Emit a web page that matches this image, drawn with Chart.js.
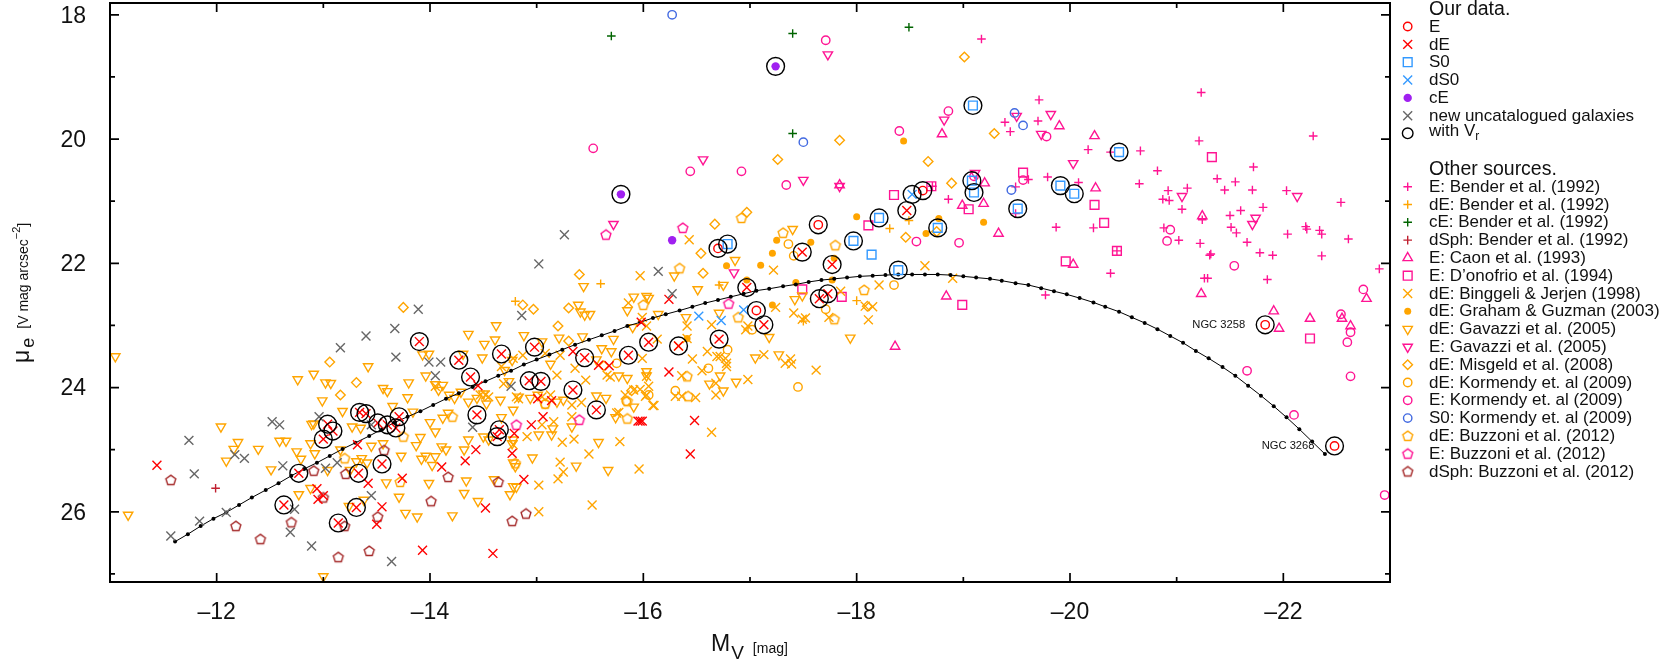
<!DOCTYPE html>
<html>
<head>
<meta charset="utf-8">
<title>Surface brightness vs absolute magnitude</title>
<script src="https://cdn.jsdelivr.net/npm/chart.js@4/dist/chart.umd.js"></script>
<style>
  html, body { margin: 0; padding: 0; background: #fff; }
  canvas { display: block; }
</style>
</head>
<body>
<canvas id="scatterChart" width="1661" height="661"></canvas>
<script>
// Points are [M_V, mu_e]
const ourE = [[-16.70,21.76],[-17.64,21.38],[-17.06,22.76],[-18.62,20.83],[-21.83,22.99],[-22.48,24.94]];
const ourDEVr = [[-13.90,23.26],[-14.27,23.56],[-14.38,23.83],[-14.44,24.44],[-13.04,24.59],[-13.09,24.70],[-13.00,24.83],
    [-13.34,24.40],[-13.40,24.42],[-13.51,24.57],[-13.60,24.60],[-13.68,24.65],[-13.71,24.47],[-12.77,25.38],[-13.33,25.38],
    [-13.55,25.23],[-12.63,25.89],[-13.31,25.93],[-13.14,26.18],[-14.67,23.46],[-14.98,23.35],[-14.93,23.89],[-15.04,23.90],
    [-14.65,24.68],[-14.63,24.79],[-15.34,24.04],[-15.45,23.52],[-15.56,24.36],[-15.86,23.48],[-16.05,23.27],[-16.33,23.33],
    [-16.71,23.22],[-16.97,22.39],[-17.13,22.99],[-17.49,21.82],[-17.77,22.02],[-17.65,22.57],[-17.73,22.49],[-18.47,21.15]];
const ourDEPlain = [[-11.44,25.25],[-13.32,24.92],[-12.94,25.63],[-13.00,25.74],[-12.95,25.80],[-13.42,25.54],[-13.74,25.46],
    [-14.11,25.28],[-14.33,25.18],[-14.43,25.00],[-14.52,25.94],[-13.55,25.92],[-13.50,26.20],[-13.93,26.62],[-14.59,26.67],
    [-14.45,23.97],[-14.88,25.48],[-14.77,25.06],[-14.79,24.74],[-14.95,24.60],[-15.06,24.47],[-15.01,24.18],[-15.14,24.21],
    [-15.34,23.42],[-15.58,23.64],[-15.68,23.65],[-15.95,24.54],[-15.97,24.54],[-15.99,24.54],[-15.98,22.95],[-16.48,24.53],
    [-16.44,25.07],[-16.24,23.75],[-16.24,22.58]];
const ourS0Vr = [[-16.79,21.69],[-17.97,21.64],[-18.21,21.27],[-18.39,22.11],[-18.76,21.43],[-19.08,20.67],[-19.10,20.86],
    [-19.51,21.12],[-19.91,20.75],[-20.04,20.88],[-20.46,20.21],[-19.09,19.46]];
const ourS0Plain = [[-18.14,21.86]];
const ourDS0Vr = [[-18.52,20.89]];
const ourDS0Plain = [[-16.52,22.85],[-16.73,22.92],[-16.94,22.75]];
const ourCEVr = [[-17.24,18.83],[-15.79,20.89]];
const ourCEPlain = [[-16.27,21.63]];
const newGalaxies = [[-11.57,26.39],[-11.84,26.15],[-12.09,26.01],[-11.79,25.39],[-11.74,24.85],[-12.17,25.08],[-12.26,25.14],
    [-12.52,24.55],[-12.59,24.60],[-12.62,25.26],[-12.73,25.96],[-12.69,26.33],[-12.89,26.55],[-12.96,24.47],[-13.02,25.30],
    [-13.13,25.21],[-13.45,25.74],[-13.64,26.80],[-13.16,23.36],[-13.40,23.17],[-13.67,23.05],[-13.68,23.51],[-13.89,22.74],
    [-13.99,23.59],[-14.10,23.59],[-14.05,23.81],[-14.40,24.64],[-13.45,24.60],[-15.02,22.01],[-14.86,22.84],[-14.76,23.98],
    [-15.26,21.54],[-16.14,22.13],[-16.27,22.49]];
const curveMv = [-11.61,-11.73,-11.85,-11.97,-12.09,-12.21,-12.33,-12.46,-12.58,-12.70,-12.82,-12.94,-13.06,-13.18,-13.30,
    -13.43,-13.55,-13.67,-13.79,-13.91,-14.03,-14.15,-14.27,-14.40,-14.52,-14.64,-14.76,-14.88,-15.00,-15.12,-15.24,-15.36,
    -15.49,-15.61,-15.73,-15.85,-15.97,-16.09,-16.21,-16.34,-16.46,-16.58,-16.70,-16.82,-16.94,-17.06,-17.18,-17.31,-17.43,
    -17.55,-17.67,-17.79,-17.91,-18.03,-18.15,-18.27,-18.39,-18.52,-18.64,-18.76,-18.88,-19.00,-19.12,-19.25,-19.36,-19.49,
    -19.61,-19.73,-19.85,-19.97,-20.09,-20.22,-20.33,-20.46,-20.58,-20.70,-20.82,-20.94,-21.06,-21.18,-21.30,-21.43,-21.55,
    -21.67,-21.79,-21.91,-22.03,-22.15,-22.27,-22.39];
const curveMu = [26.48,26.36,26.23,26.11,26.01,25.89,25.77,25.65,25.54,25.42,25.31,25.21,25.10,24.99,24.89,24.78,24.67,24.56,
    24.47,24.38,24.28,24.18,24.09,23.99,23.90,23.81,23.73,23.63,23.55,23.47,23.39,23.31,23.23,23.16,23.09,23.01,22.95,22.88,
    22.82,22.76,22.70,22.64,22.59,22.54,22.49,22.44,22.41,22.37,22.34,22.30,22.27,22.25,22.23,22.21,22.20,22.19,22.18,22.18,
    22.18,22.18,22.19,22.21,22.23,22.25,22.28,22.32,22.35,22.40,22.45,22.50,22.56,22.63,22.70,22.78,22.87,22.96,23.06,23.17,
    23.28,23.41,23.53,23.67,23.81,23.97,24.13,24.30,24.48,24.67,24.87,25.07];
const benderE = [[-19.17,18.39],[-18.86,20.97],[-19.49,20.77],[-19.61,20.65],[-19.44,19.88],[-19.49,21.20],[-18.71,20.76],
    [-19.71,19.37],[-21.23,19.25],[-19.39,19.73],[-19.70,19.71],[-22.28,19.95],[-20.17,20.17],[-20.38,20.21],[-20.66,20.19],
    [-21.21,20.03],[-20.82,20.51],[-21.72,20.45],[-21.38,20.64],[-21.55,20.69],[-19.79,20.61],[-20.08,20.70],[-20.65,20.72],
    [-20.92,20.83],[-21.10,20.79],[-21.45,20.82],[-21.71,20.82],[-22.03,20.83],[-20.87,20.97],[-20.93,20.99],[-21.05,21.13],
    [-22.54,21.02],[-21.24,21.30],[-21.60,21.15],[-21.81,21.10],[-21.50,21.23],[-21.51,21.42],[-21.56,21.51],[-21.66,21.66],
    [-20.88,21.43],[-21.02,21.63],[-21.22,21.68],[-19.87,21.42],[-20.22,21.43],[-22.21,21.41],[-22.22,21.45],[-22.34,21.47],
    [-22.36,21.53],[-22.04,21.53],[-22.61,21.61],[-21.32,21.85],[-21.31,21.87],[-21.78,21.83],[-21.90,21.87],[-22.36,21.88],
    [-20.38,22.16],[-19.77,22.51],[-22.90,22.09],[-21.26,22.24],[-21.29,22.24],[-21.85,22.26],[-20.44,21.80]];
const benderDE = [[-15.60,22.33],[-14.80,22.61],[-16.71,22.35],[-18.31,21.44],[-18.00,22.60],[-17.50,22.93],[-18.49,21.31]];
const benderCE = [[-15.70,18.34],[-17.40,18.30],[-18.49,18.20],[-17.40,19.91]];
const benderDSph = [[-11.99,25.62]];
const caonE = [[-18.80,19.92],[-17.84,20.74],[-19.90,19.79],[-20.23,19.95],[-20.24,20.79],[-20.03,22.02],[-21.24,21.24],
    [-21.23,22.49],[-22.78,22.57],[-21.91,22.77],[-21.96,23.05],[-22.25,22.89],[-22.55,22.89],[-22.63,23.01],[-18.84,22.53],
    [-18.36,23.34],[-19.33,21.52],[-19.19,21.04],[-18.99,21.07],[-19.20,20.71]];
const donofrioE = [[-19.56,20.54],[-21.33,20.29],[-20.23,21.06],[-20.32,21.35],[-20.44,21.80],[-19.96,21.97],[-22.25,23.21],
    [-18.35,20.90],[-18.70,20.76],[-18.11,21.39],[-17.49,22.42],[-17.86,22.54],[-18.99,22.67],[-19.05,21.13]];
const binggeliDE = [[-15.97,22.20],[-15.86,22.64],[-15.99,22.87],[-16.03,23.01],[-15.99,23.53],[-16.03,23.82],[-15.66,23.80],
    [-15.69,23.83],[-15.46,23.88],[-15.36,23.69],[-15.19,23.80],[-15.42,24.24],[-15.33,24.28],[-15.33,24.47],[-15.83,24.12],
    [-15.91,24.04],[-15.97,24.03],[-16.05,23.98],[-16.03,24.12],[-16.10,24.29],[-15.77,24.40],[-15.78,24.87],[-15.49,25.07],
    [-15.35,24.83],[-15.24,24.88],[-15.22,25.20],[-15.25,25.36],[-15.20,25.47],[-15.02,25.57],[-15.02,26.00],[-15.52,25.89],
    [-15.96,25.31],[-14.91,24.79],[-15.05,24.60],[-15.16,24.55],[-15.13,24.12],[-15.08,23.45],[-14.87,23.48],[-14.67,23.66],
    [-14.69,23.94],[-14.78,23.53],[-14.81,24.15],[-14.47,24.12],[-14.52,24.12],[-14.05,23.98],[-14.78,24.92],[-15.22,23.48],
    [-14.55,24.15],[-14.83,24.18],[-15.05,24.15],[-16.43,21.62],[-17.22,22.11],[-17.41,22.80],[-17.49,22.90],[-17.52,22.88],
    [-17.74,22.87],[-18.11,22.91],[-18.21,22.35],[-18.08,22.69],[-18.15,22.70],[-17.24,22.71],[-16.96,23.07],[-16.98,23.01],
    [-17.13,23.47],[-17.38,23.54],[-17.33,23.61],[-17.39,23.62],[-17.62,23.72],[-16.98,23.87],[-16.78,23.61],[-16.77,23.53],
    [-16.78,23.66],[-16.60,23.42],[-16.69,23.50],[-16.72,23.50],[-16.64,22.99],[-16.41,23.01],[-16.13,23.22],[-16.41,23.21],
    [-16.46,23.54],[-16.55,23.73],[-16.36,23.81],[-16.68,23.93],[-16.68,24.12],[-16.49,24.16],[-16.36,24.14],[-16.30,24.14],
    [-16.09,24.29],[-16.02,24.14],[-15.75,24.41],[-16.64,24.72],[-17.85,22.45],[-18.64,22.04],[-18.90,22.24],[-16.33,23.33]];
const grahamDE = [[-18.44,20.03],[-18.00,21.25],[-18.65,21.52],[-18.77,21.28],[-19.19,21.34],[-17.57,21.66],[-17.79,21.92],
    [-17.77,22.27],[-17.43,22.31],[-17.25,21.63],[-17.21,21.84],[-17.10,22.03],[-16.78,22.04],[-16.97,22.27],[-17.21,22.67],
    [-16.41,23.21]];
const gavazziDE = [[-11.05,23.50],[-11.17,26.05],[-12.04,24.63],[-12.20,24.88],[-12.16,24.99],[-12.09,25.18],[-12.39,24.99],
    [-12.59,24.86],[-12.65,24.86],[-12.51,25.32],[-12.75,25.03],[-12.79,25.15],[-12.77,25.72],[-12.88,25.62],[-12.76,23.87],
    [-12.91,23.78],[-13.02,23.92],[-13.07,23.93],[-13.42,23.66],[-12.99,24.21],[-13.18,24.38],[-12.89,24.59],[-12.91,24.58],
    [-12.88,24.90],[-12.92,25.06],[-13.16,25.00],[-13.04,25.33],[-13.25,25.33],[-13.36,25.14],[-13.31,25.19],[-13.41,25.21],
    [-13.24,25.91],[-13.38,25.81],[-13.00,27.04],[-13.27,24.63],[-13.35,24.65],[-13.56,24.90],[-13.45,24.94],[-13.56,24.01],
    [-13.60,24.06],[-13.65,24.30],[-13.80,23.92],[-13.79,24.16],[-13.84,24.39],[-13.73,25.10],[-13.59,25.53],[-13.71,25.76],
    [-13.77,26.02],[-13.88,26.08],[-13.99,25.54],[-13.87,24.93],[-13.91,24.80],[-13.92,25.15],[-13.96,25.10],[-14.02,25.25],
    [-14.05,25.11],[-14.00,24.56],[-14.05,24.71],[-14.11,24.95],[-14.15,25.00],[-14.12,24.49],[-14.17,24.41],[-13.93,23.47],
    [-13.99,23.46],[-13.96,23.81],[-14.05,23.95],[-14.08,24.04],[-14.12,23.96],[-14.18,24.12],[-14.23,24.17],[-14.29,24.07],
    [-14.36,24.23],[-14.44,24.17],[-14.50,24.10],[-14.53,24.26],[-14.36,23.14],[-14.51,23.30],[-14.61,23.23],[-14.62,23.00],
    [-14.49,23.52],[-14.31,23.46],[-14.36,24.84],[-14.32,25.00],[-14.34,25.50],[-14.32,25.70],[-14.45,25.83],[-14.21,26.06],
    [-14.60,25.48],[-14.50,24.79],[-14.55,24.84],[-14.88,23.16],[-15.05,23.26],[-14.77,23.56],[-14.70,23.72],[-15.21,23.20],
    [-15.43,23.18],[-15.13,23.62],[-15.39,22.67],[-15.44,22.37],[-15.41,22.78],[-15.45,22.83],[-15.50,22.82],[-15.72,23.22],
    [-15.70,23.42],[-15.61,23.37],[-15.56,23.55],[-15.91,22.54],[-16.03,22.53],[-16.05,22.56],[-15.85,22.76],[-15.90,23.03],
    [-16.14,22.82],[-16.03,23.74],[-16.03,23.81],[-15.85,23.85],[-15.77,23.81],[-14.74,23.90],[-14.66,24.20],[-14.83,24.15],
    [-14.94,24.17],[-14.78,24.36],[-15.01,24.12],[-14.67,24.48],[-14.96,25.13],[-14.75,25.72],[-14.78,25.59],[-14.81,25.60],
    [-14.78,24.84],[-14.77,24.90],[-14.78,25.21],[-14.80,25.27],[-15.02,24.76],[-15.14,24.76],[-15.15,24.66],[-15.33,24.63],
    [-15.37,25.26],[-15.58,24.88],[-15.67,25.33],[-15.74,24.48],[-15.91,24.31],[-15.65,24.17],[-15.56,24.13],[-15.25,24.20],
    [-15.19,24.23],[-17.18,23.19],[-17.05,23.52],[-17.27,23.47],[-16.87,23.91],[-16.75,24.05],[-16.62,23.94],[-16.72,23.81],
    [-17.94,23.20],[-16.51,22.42],[-16.29,22.20],[-16.75,22.35],[-16.86,21.95],[-17.40,21.45],[-17.42,22.58],[-16.71,22.80],
    [-16.40,22.87],[-17.49,22.52]];
const gavazziE = [[-17.73,18.64],[-18.82,19.69],[-16.56,20.33],[-17.50,20.66],[-17.84,20.76],[-19.50,19.63],[-19.82,19.60],
    [-19.73,19.92],[-20.03,20.39],[-21.05,20.92],[-22.13,20.92],[-21.74,21.27],[-21.71,21.37],[-15.72,21.37],[-19.11,20.55],
    [-16.85,22.15]];
const misgeldDE = [[-13.75,22.71],[-13.06,23.59],[-13.31,23.92],[-13.16,24.12],[-14.87,22.67],[-14.97,22.74],[-15.30,22.72],
    [-15.30,23.25],[-15.20,23.01],[-15.40,22.18],[-16.67,21.37],[-16.54,21.84],[-16.56,22.16],[-16.97,21.18],[-15.63,23.65],
    [-15.89,24.05],[-18.10,22.69],[-19.01,18.68],[-19.29,19.91],[-18.67,20.36],[-17.84,20.02],[-17.26,20.33],[-18.89,20.71],
    [-18.46,21.58],[-18.75,21.49]];
const kormendyDE = [[-17.36,21.69],[-17.41,21.88],[-15.75,23.61],[-16.61,23.69],[-16.30,24.05],[-16.05,24.12],[-15.84,24.22],
    [-17.45,23.99],[-17.02,23.07],[-17.71,22.74],[-18.35,22.35],[-15.08,24.27],[-16.79,23.39]];
const kormendyE = [[-17.71,18.41],[-18.86,19.55],[-18.40,19.87],[-15.53,20.15],[-16.44,20.52],[-16.92,20.52],[-17.34,20.74],
    [-19.78,19.96],[-19.56,20.66],[-20.94,21.46],[-20.91,21.64],[-21.54,22.04],[-22.75,22.42],[-22.54,22.82],[-22.63,23.11],
    [-22.60,23.27],[-21.66,23.73],[-22.63,23.82],[-22.10,24.44],[-22.95,25.73],[-18.56,21.65],[-18.96,21.67],[-19.10,20.60]];
const kormendyS0 = [[-16.27,18.00],[-17.50,20.05],[-19.48,19.58],[-19.56,19.78],[-19.45,20.82]];
const buzzoniDE = [[-16.92,21.27],[-17.31,21.51],[-16.34,22.08],[-17.80,21.71],[-18.07,22.43],[-17.79,22.90],[-16.89,22.87],
    [-16.00,22.67],[-15.85,24.22],[-15.85,24.50],[-16.41,23.82],[-16.42,24.14],[-14.21,24.47],[-14.80,25.22],[-15.08,24.26],
    [-13.20,25.14],[-13.72,25.52],[-13.75,24.79]];
const buzzoniE = [[-15.65,21.54],[-16.37,21.43],[-16.80,22.65],[-14.81,24.60],[-15.40,24.52]];
const buzzoniDSph = [[-11.57,25.49],[-12.18,26.23],[-12.41,26.44],[-12.70,26.17],[-13.14,26.73],[-13.43,26.63],[-12.91,25.34],
    [-13.21,25.39],[-13.57,25.01],[-13.51,26.08],[-13.20,26.23],[-13.00,25.77],[-14.17,25.44],[-14.01,25.83],[-14.64,25.52],
    [-14.77,26.15],[-14.90,26.03]];

const xTickValues = [-12, -14, -16, -18, -20, -22];
const xTickLabels = ['–12', '–14', '–16', '–18', '–20', '–22'];
const yTickValues = [18, 20, 22, 24, 26];
const yTickLabels = ['18', '20', '22', '24', '26'];
const galaxyNames = [['NGC 3258', -21.83, 22.99], ['NGC 3268', -22.48, 24.94]];

const FONT = '"Liberation Sans", Arial, sans-serif';
const PINK = '#ff1493';
const ORANGE = '#ffa500';
const RED = '#ff0000';
const BLUE = '#3399ff';
const LINE = 1.4;

function pentagon(color) {
    const c = document.createElement('canvas');
    c.width = c.height = 14;
    const g = c.getContext('2d');
    g.strokeStyle = color;
    g.lineWidth = LINE;
    g.beginPath();
    for (let i = 0; i < 5; i++) {
        const a = -Math.PI / 2 + i * 2 * Math.PI / 5;
        g.lineTo(7 + 5.2 * Math.cos(a), 7.3 + 5.2 * Math.sin(a));
    }
    g.closePath();
    g.stroke();
    return c;
}

// Marker looks, shared by the chart and the legend
const mark = {
    circle: (color) => ({ pointStyle: 'circle', radius: 4.2, color }),
    dot: (color, radius) => ({ pointStyle: 'circle', radius, color, fill: true }),
    x: (color) => ({ pointStyle: 'crossRot', radius: 6.3, color }),
    plus: (color) => ({ pointStyle: 'cross', radius: 4.3, color }),
    square: (color) => ({ pointStyle: 'rect', radius: 6.2, color }),
    up: (color) => ({ pointStyle: 'triangle', radius: 5.4, color }),
    down: (color) => ({ pointStyle: 'triangle', radius: 5.4, rotation: 180, color }),
    diamond: (color) => ({ pointStyle: 'rectRot', radius: 4.8, color }),
    pent: (color) => ({ pointStyle: pentagon(color), radius: 5, color })
};

const ringMark = { pointStyle: 'circle', radius: 8.9, color: '#000' };
const ringLegendMark = { pointStyle: 'circle', radius: 5.3, color: '#000' };

// Draw order is bottom to top
const otherSeries = [
    { label: 'E: Bender et al. (1992)', data: benderE, m: mark.plus(PINK) },
    { label: 'dE: Bender et al. (1992)', data: benderDE, m: mark.plus(ORANGE) },
    { label: 'cE: Bender et al. (1992)', data: benderCE, m: mark.plus('#006400') },
    { label: 'dSph: Bender et al. (1992)', data: benderDSph, m: mark.plus('#c02030') },
    { label: 'E: Caon et al. (1993)', data: caonE, m: mark.up(PINK) },
    { label: 'E: D’onofrio et al. (1994)', data: donofrioE, m: mark.square(PINK) },
    { label: 'dE: Binggeli & Jerjen (1998)', data: binggeliDE, m: mark.x(ORANGE) },
    { label: 'dE: Graham & Guzman (2003)', data: grahamDE, m: mark.dot(ORANGE, 3.5) },
    { label: 'dE: Gavazzi et al. (2005)', data: gavazziDE, m: mark.down(ORANGE) },
    { label: 'E: Gavazzi et al. (2005)', data: gavazziE, m: mark.down(PINK) },
    { label: 'dE: Misgeld et al. (2008)', data: misgeldDE, m: mark.diamond(ORANGE) },
    { label: 'dE: Kormendy et. al (2009)', data: kormendyDE, m: mark.circle(ORANGE) },
    { label: 'E: Kormendy et. al (2009)', data: kormendyE, m: mark.circle(PINK) },
    { label: 'S0: Kormendy et. al (2009)', data: kormendyS0, m: mark.circle('#4169e1') },
    { label: 'dE: Buzzoni et al. (2012)', data: buzzoniDE, m: mark.pent(ORANGE) },
    { label: 'E: Buzzoni et al. (2012)', data: buzzoniE, m: mark.pent(PINK) },
    { label: 'dSph: Buzzoni et al. (2012)', data: buzzoniDSph, m: mark.pent('#a52a2a') }
];
const ourSeries = [
    { label: 'E', data: ourE, m: mark.circle(RED) },
    { label: 'dE', data: [...ourDEVr, ...ourDEPlain], m: mark.x(RED) },
    { label: 'S0', data: [...ourS0Vr, ...ourS0Plain], m: mark.square(BLUE) },
    { label: 'dS0', data: [...ourDS0Vr, ...ourDS0Plain], m: mark.x(BLUE) },
    { label: 'cE', data: [...ourCEVr, ...ourCEPlain], m: mark.dot('#a020f0', 4.2) },
    { label: 'new uncatalogued galaxies', data: newGalaxies, m: mark.x('#666666') }
];
const withVr = [...ourE, ...ourDEVr, ...ourS0Vr, ...ourDS0Vr, ...ourCEVr];

function pointDataset(s) {
    return {
        label: s.label,
        data: s.data.map(p => ({ x: p[0], y: p[1] })),
        showLine: false,
        pointStyle: s.m.pointStyle,
        pointRotation: s.m.rotation || 0,
        pointRadius: s.m.radius,
        pointHoverRadius: s.m.radius,
        pointBorderWidth: s.m.fill ? 0 : LINE,
        pointBorderColor: s.m.color,
        pointBackgroundColor: s.m.fill ? s.m.color : 'rgba(0,0,0,0)'
    };
}

const curveDataset = {
    label: 'curve',
    data: curveMv.map((v, i) => ({ x: v, y: curveMu[i] })),
    showLine: true,
    borderColor: '#000',
    borderWidth: 1,
    tension: 0,
    pointStyle: 'circle',
    pointRadius: 2,
    pointBorderWidth: 0,
    pointBackgroundColor: '#000'
};

const ringDataset = pointDataset({ label: 'with Vr', data: withVr, m: ringMark });

const datasets = [...otherSeries.map(pointDataset), curveDataset, ...ourSeries.map(pointDataset), ringDataset];
datasets.forEach((d, i) => { d.order = datasets.length - i; });

function drawRuns(ctx, runs, x, y) {
    let pos = x;
    runs.forEach(r => {
        ctx.font = r.size + 'px ' + FONT;
        pos += r.gap || 0;
        ctx.fillText(r.text, pos, y + (r.dy || 0));
        pos += ctx.measureText(r.text).width;
    });
}

function legendMark(ctx, m, x, y) {
    ctx.save();
    ctx.strokeStyle = m.color;
    ctx.fillStyle = m.fill ? m.color : 'rgba(0,0,0,0)';
    ctx.lineWidth = m.fill ? 0 : LINE;
    Chart.helpers.drawPoint(ctx, { pointStyle: m.pointStyle, rotation: m.rotation || 0, radius: m.radius, borderWidth: m.fill ? 0 : LINE }, x, y);
    ctx.restore();
}

const framePlugin = {
    id: 'frame',
    afterDatasetsDraw(chart) {
        const ctx = chart.ctx;
        const a = chart.chartArea;
        const xs = chart.scales.x;
        const ys = chart.scales.y;
        ctx.save();
        ctx.strokeStyle = '#000';
        ctx.lineWidth = 1.7;
        ctx.beginPath();
        xs.ticks.forEach(t => {
            const p = xs.getPixelForValue(t.value);
            const len = t.value % 2 === 0 ? 9 : 5;
            ctx.moveTo(p, a.bottom); ctx.lineTo(p, a.bottom - len);
            ctx.moveTo(p, a.top); ctx.lineTo(p, a.top + len);
        });
        ys.ticks.forEach(t => {
            const p = ys.getPixelForValue(t.value);
            const len = t.value % 2 === 0 ? 9 : 5;
            ctx.moveTo(a.left, p); ctx.lineTo(a.left + len, p);
            ctx.moveTo(a.right, p); ctx.lineTo(a.right - len, p);
        });
        ctx.stroke();
        ctx.lineWidth = 2;
        ctx.strokeRect(a.left, a.top, a.right - a.left, a.bottom - a.top);

        ctx.fillStyle = '#111';
        ctx.textBaseline = 'middle';
        ctx.font = '11.2px ' + FONT;
        ctx.textAlign = 'right';
        galaxyNames.forEach(g => {
            const x = xs.getPixelForValue(g[1]);
            const y = ys.getPixelForValue(g[2]);
            ctx.fillText(g[0], x - 20, y);
        });

        // axis titles, with their sub and superscripts
        ctx.textAlign = 'left';
        ctx.textBaseline = 'alphabetic';
        drawRuns(ctx, [
            { text: 'M', size: 23 },
            { text: 'V', size: 19, dy: 8, gap: 1 },
            { text: '[mag]', size: 14, gap: 9, dy: 2 }
        ], 711, 651);
        ctx.save();
        ctx.translate(29, 363);
        ctx.rotate(-Math.PI / 2);
        drawRuns(ctx, [
            { text: 'μ', size: 23 },
            { text: 'e', size: 18, dy: 5, gap: 2 },
            { text: '[V mag arcsec', size: 14, gap: 9, dy: -1 },
            { text: '−2', size: 11, dy: -9.5 },
            { text: ']', size: 14, dy: -1 }
        ], 0, 0);
        ctx.restore();

        // legend
        const markX = 1407.7;
        const textX = 1429;
        ctx.textBaseline = 'middle';
        ctx.fillStyle = '#111';
        ctx.font = '19.5px ' + FONT;
        ctx.fillText('Our data.', textX, 9.5);
        ctx.fillText('Other sources.', textX, 169.5);
        ourSeries.forEach((s, i) => {
            const y = 26.5 + i * 17.85;
            legendMark(ctx, s.m, markX, y);
            ctx.fillStyle = '#111';
            ctx.font = '17px ' + FONT;
            ctx.fillText(s.label, textX, y + 0.5);
        });
        legendMark(ctx, ringLegendMark, markX, 133.3);
        ctx.fillStyle = '#111';
        drawRuns(ctx, [
            { text: 'with V', size: 17 },
            { text: 'r', size: 12, dy: 5 }
        ], textX, 131.7);
        otherSeries.forEach((s, i) => {
            const y = 186.7 + i * 17.8;
            legendMark(ctx, s.m, markX, y);
            ctx.fillStyle = '#111';
            ctx.font = '17px ' + FONT;
            ctx.fillText(s.label, textX, y + 0.5);
        });
        ctx.restore();
    }
};

new Chart(document.getElementById('scatterChart').getContext('2d'), {
    type: 'scatter',
    data: { datasets },
    plugins: [framePlugin],
    options: {
        responsive: false,
        animation: false,
        events: [],
        layout: { autoPadding: false, padding: { left: 0, top: 3, right: 271, bottom: 0 } },
        plugins: { legend: { display: false }, tooltip: { enabled: false } },
        scales: {
            x: {
                type: 'linear',
                reverse: true,
                min: -23,
                max: -11,
                grid: { display: false },
                border: { display: false },
                afterFit(s) { s.height = 79; s.paddingLeft = 0; s.paddingRight = 0; },
                ticks: {
                    stepSize: 1,
                    autoSkip: false,
                    maxRotation: 0,
                    includeBounds: false,
                    padding: 9,
                    color: '#111',
                    font: { family: FONT, size: 23 },
                    callback: v => {
                        const i = xTickValues.indexOf(v);
                        return i < 0 ? '' : xTickLabels[i];
                    }
                }
            },
            y: {
                type: 'linear',
                reverse: true,
                min: 17.81,
                max: 27.13,
                grid: { display: false },
                border: { display: false },
                afterFit(s) { s.width = 110; s.paddingTop = 0; s.paddingBottom = 0; },
                ticks: {
                    stepSize: 1,
                    autoSkip: false,
                    includeBounds: false,
                    padding: 16,
                    labelOffset: 1.5,
                    color: '#111',
                    font: { family: FONT, size: 23 },
                    callback: v => {
                        const i = yTickValues.indexOf(v);
                        return i < 0 ? '' : yTickLabels[i];
                    }
                }
            }
        }
    }
});
</script>
</body>
</html>
